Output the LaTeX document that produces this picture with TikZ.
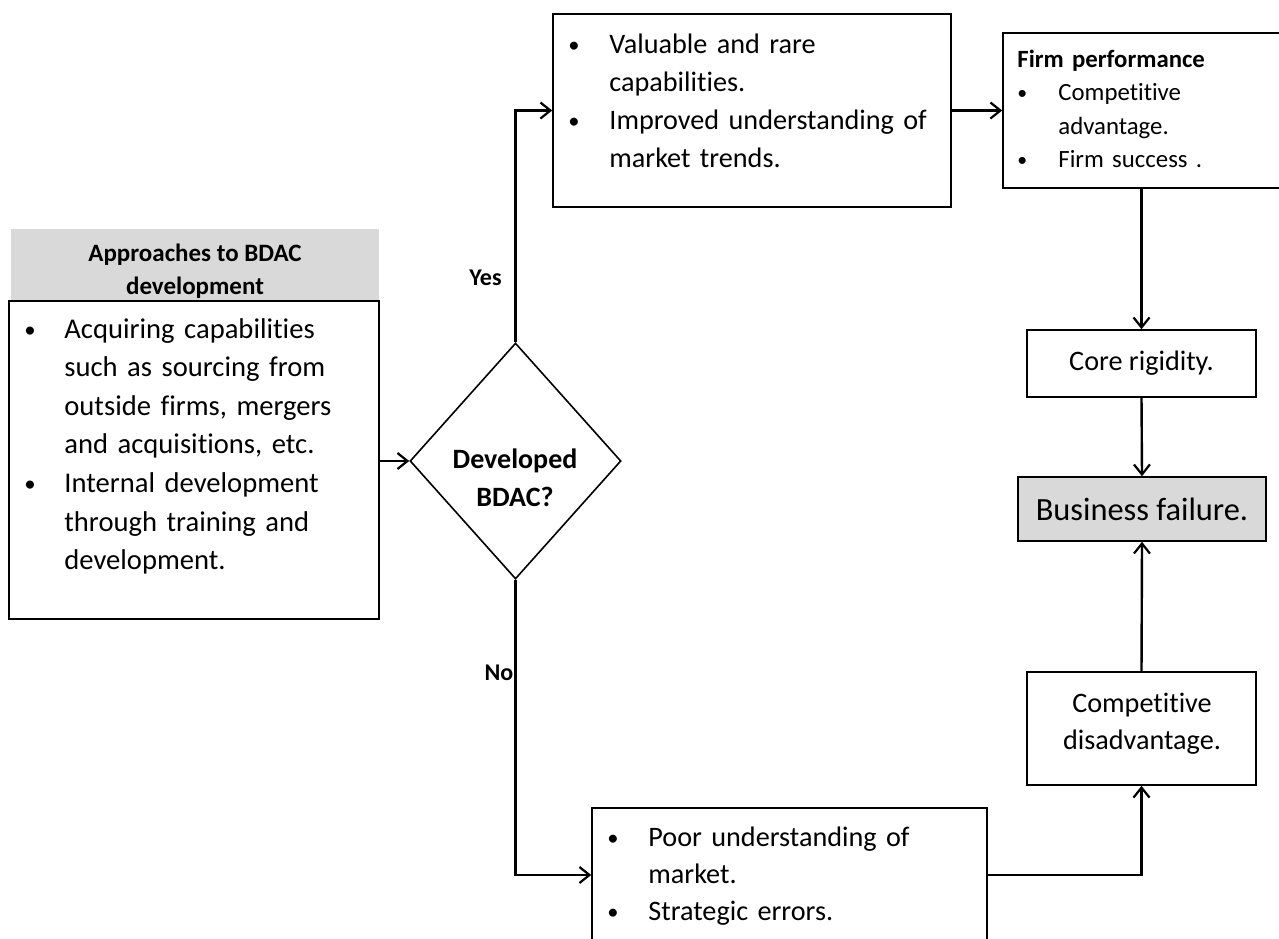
\documentclass[tikz,border=0pt]{standalone}
\usepackage{fontspec}
\usepackage{graphicx}
\setmainfont{Carlito}[RawFeature={-liga;-clig;-calt}]
\usetikzlibrary{arrows.meta,shapes.geometric}
\definecolor{boxgrey}{HTML}{D9D9D9}
\newcommand\nl{\unskip\nobreak\hfil\break}
\newcommand\bitem[2]{\hangindent=#1\hangafter=1 \makebox[#1][l]{\raisebox{0.5pt}{\scalebox{0.8}{\textbullet}}}#2\par}
\tikzset{
  box/.style={draw=black, line width=0.8pt, inner sep=0pt, rectangle},
  txt/.style={inner sep=0pt, anchor=base west, align=left},
  conn/.style={line width=1.2pt, -{Straight Barb[length=5pt,width=8pt,line width=1.1pt]}}
}
\begin{document}
\begin{tikzpicture}[x=0.5pt,y=-0.5pt]
\clip (0,0) rectangle (1279,938);
\useasboundingbox (0,0) rectangle (1279,938);

% header and left box
\node[fill=boxgrey, inner sep=0pt, minimum width=184pt, minimum height=36pt] (hdr) at (195,265) {};
\node[align=center, inner sep=0pt, font=\fontsize{12.5}{16.5}\selectfont\bfseries] (hdrtxt) at (195,271)
      {Approaches to BDAC\\development};
\node[box, minimum width=185pt, minimum height=159pt] (left) at (194,460) {};
\node[txt, text width=176pt, font=\fontsize{14.3}{19.3}\selectfont] (lefttxt) at (24,338)
  {\rightskip=0pt plus 1fil\relax
   \bitem{20pt}{Acquiring capabilities\nl such as sourcing from\nl outside firms, mergers\nl and acquisitions, etc.}%
   \bitem{20pt}{Internal development\nl through training and\nl development.}};

% decision
\node[draw=black, line width=0.8pt, diamond, aspect=0.9, inner sep=0pt,
      minimum width=105.5pt, minimum height=118pt] (dia) at (515.5,461) {};
\node[align=center, inner sep=0pt, font=\fontsize{14}{19}\selectfont\bfseries] (diatxt) at (515,478)
  {Developed\\BDAC?};

% top box
\node[box, minimum width=199pt, minimum height=96.5pt] (vrc) at (752,110.5) {};
\node[txt, text width=185pt, font=\fontsize{14.1}{19}\selectfont] (vrctxt) at (568,53)
  {\rightskip=0pt plus 1fil\relax
   \bitem{20.5pt}{Valuable and rare\nl capabilities.}%
   \bitem{20.5pt}{Improved understanding of\nl market trends.}};

% firm performance
\node[box, minimum width=141pt, minimum height=77.5pt] (firm) at (1144,110.5) {};
\node[txt, text width=130pt, font=\fontsize{12.4}{16.8}\selectfont] (firmtxt) at (1017,67)
  {\rightskip=0pt plus 1fil\relax
   \textbf{Firm performance}\par
   \bitem{20.5pt}{Competitive\nl advantage.}%
   \bitem{20.5pt}{Firm success .}};

% right column
\node[box, minimum width=114.5pt, minimum height=33.5pt, font=\fontsize{14.1}{17}\selectfont] (core) at (1141.5,363.5) {Core rigidity.};
\node[box, fill=boxgrey, minimum width=124pt, minimum height=32pt, font=\fontsize{16.2}{19}\selectfont] (bf) at (1142,509) {Business failure.};
\node[box, minimum width=114.5pt, minimum height=56.5pt] (comp) at (1141.5,728.5) {};
\node[align=center, inner sep=0pt, font=\fontsize{14.1}{18.5}\selectfont] (comptxt) at (1142,724)
  {Competitive\\disadvantage.};

% bottom box
\node[box, minimum width=197.5pt, minimum height=67pt] (poor) at (789.5,875) {};
\node[txt, text width=185pt, font=\fontsize{14.1}{18.6}\selectfont] (poortxt) at (607,846)
  {\rightskip=0pt plus 1fil\relax
   \bitem{20.5pt}{Poor understanding of\nl market.}%
   \bitem{20.5pt}{Strategic errors.}};

% labels
\node[inner sep=0pt, font=\fontsize{12}{14}\selectfont\bfseries] (yes) at (485.5,278) {Yes};
\node[inner sep=0pt, font=\fontsize{12}{14}\selectfont\bfseries] (no) at (499,673) {No};

% connectors
\draw[conn] (left.east |- dia.west) -- (dia.west);
\draw[conn] (dia.north) |- (vrc.west);
\draw[conn] (vrc.east) -- (vrc.east -| firm.west);
\draw[conn] (firm.south -| core.north) -- (core.north);
\draw[conn] (core.south) -- (bf.north);
\draw[conn] (comp.north) -- (bf.south);
\draw[conn] (dia.south) |- (poor.west);
\draw[conn] (poor.east) -| (comp.south);
\end{tikzpicture}
\end{document}
